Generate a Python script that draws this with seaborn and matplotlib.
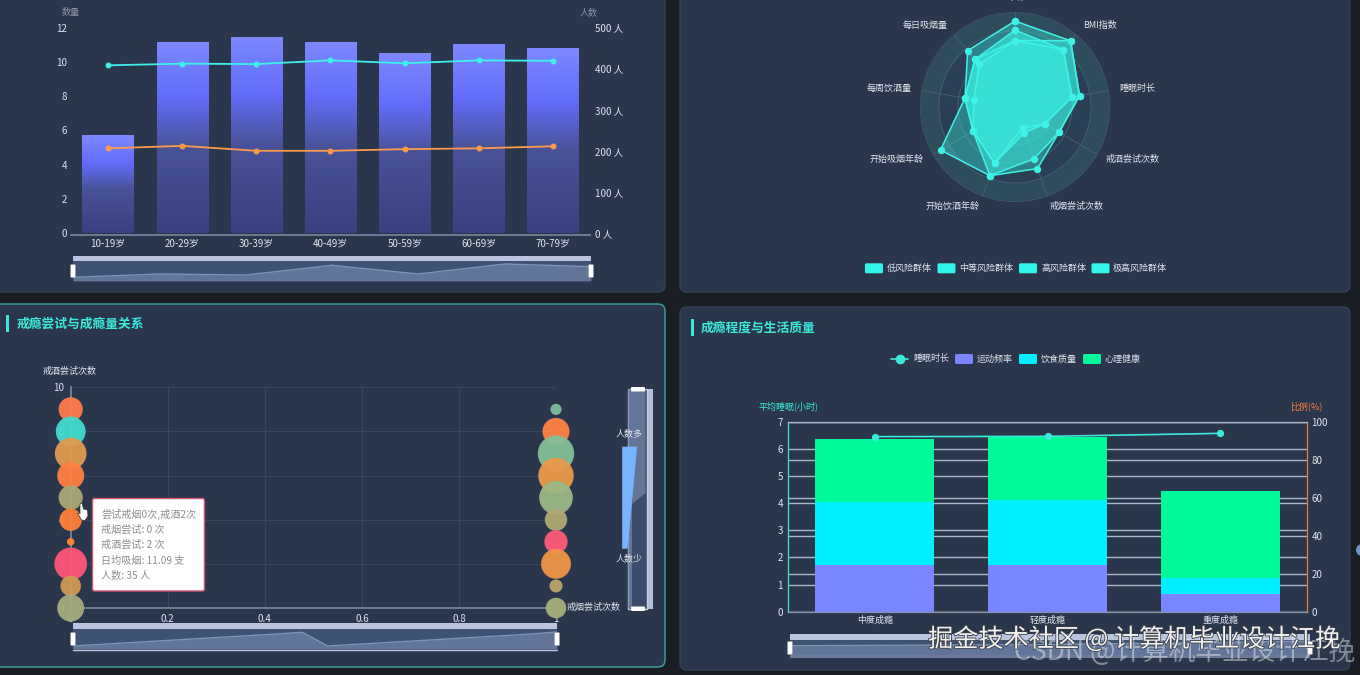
import numpy as np
import matplotlib
matplotlib.use("Agg")
import matplotlib.pyplot as plt
from matplotlib.colors import LinearSegmentedColormap
from matplotlib.patches import FancyBboxPatch, Rectangle, Polygon, Circle
import matplotlib.patheffects as pe
import seaborn as sns

W, H = 1360, 675
sns.set_theme(style="dark")
plt.rcParams["font.family"] = ["Noto Sans CJK SC", "DejaVu Sans"]
plt.rcParams["axes.unicode_minus"] = False

# 年龄段分布
age_groups = ["10-19岁", "20-29岁", "30-39岁", "40-49岁", "50-59岁", "60-69岁", "70-79岁"]
age_quantity = [5.67, 11.1, 11.42, 11.1, 10.48, 11.0, 10.75]
age_people_a = [408, 412, 411, 420, 413, 420, 419]
age_people_b = [206, 212, 200, 200, 204, 206, 211]
age_overview = [11, 21, 18, 47, 21, 51, 43]

# 风险群体雷达
radar_axes = ["年龄", "BMI指数", "睡眠时长", "戒酒尝试次数", "戒烟尝试次数",
              "开始饮酒年龄", "开始吸烟年龄", "每周饮酒量", "每日吸烟量"]
radar_groups = ["低风险群体", "中等风险群体", "高风险群体", "极高风险群体"]
radar_low = [0.70, 0.79, 0.61, 0.36, 0.29, 0.63, 0.51, 0.44, 0.585]
radar_mid = [0.81, 0.79, 0.61, 0.36, 0.235, 0.63, 0.51, 0.535, 0.655]
radar_high = [0.70, 0.91, 0.69, 0.535, 0.58, 0.77, 0.51, 0.535, 0.655]
radar_extreme = [0.905, 0.91, 0.69, 0.535, 0.69, 0.77, 0.905, 0.535, 0.775]

# 戒瘾尝试气泡
quit_alcohol = [9, 8, 7, 6, 5, 4, 3, 2, 1, 0]
people_smoke0 = [26, 32, 34, 29, 26, 24, 8, 35, 22, 29]
people_smoke1 = [12, 29, 39, 38, 36, 24, 25, 32, 14, 22]
colors_smoke0 = ["#ff7b4a", "#40dcd0", "#e29a50", "#ff7f42", "#a9a875",
                 "#ff8039", "#ff8b2e", "#ff5577", "#d09a55", "#a5ab7c"]
colors_smoke1 = ["#7cc0a0", "#ff8344", "#84bf98", "#ec9a48", "#9bb986",
                 "#b0a874", "#ff5a78", "#ef9645", "#bba36b", "#a6b07a"]
bubble_overview = [3, 4.5, 6, 7.5, 9, 10.5, 12, 13.5, 15, 16.7,
                   3, 4.5, 6, 7.5, 9, 10.5, 12, 13.5, 15, 17]

# 成瘾程度与生活质量
severity = ["中度成瘾", "轻度成瘾", "重度成瘾"]
sleep_hours = [6.45, 6.46, 6.57]
exercise_pct = [24.6, 24.7, 9.1]
diet_pct = [32.9, 33.9, 8.6]
mental_pct = [33.2, 33.15, 45.6]
severity_overview = [9, 10, 13]

TEXT = "#dfe5ef"
TEAL = "#3de8da"
FONT = 6.5
TICK = 7.0

fig = plt.figure(figsize=(W / 100, H / 100), dpi=100, facecolor="#191d24")


def px_axes(x0, y0, x1, y1, z=2, **kw):
    ax = fig.add_axes([x0 / W, 1 - y1 / H, (x1 - x0) / W, (y1 - y0) / H], zorder=z, **kw)
    ax.patch.set_alpha(0)
    return ax


def pixel_layer(z):
    ax = px_axes(0, 0, W, H, z=z)
    ax.set_xlim(0, W)
    ax.set_ylim(H, 0)
    ax.axis("off")
    return ax


def style_ticks(ax, color=TEXT):
    ax.tick_params(axis="both", which="both", colors=color, labelsize=TICK,
                   length=0, pad=3)
    ax.grid(False)
    ax.set_xlabel("")
    ax.set_ylabel("")


back = pixel_layer(0)
front = pixel_layer(20)


def panel(x0, y0, x1, y1, edge=None):
    back.add_patch(FancyBboxPatch((x0 + 6, y0 + 6), x1 - x0 - 12, y1 - y0 - 12,
                                  boxstyle="round,pad=6,rounding_size=7",
                                  fc="#2a364b", ec=edge or "#34425a", lw=1.0))


panel(-20, -30, 665, 292)
panel(680, -30, 1350, 292)
panel(-20, 304, 665, 667, edge="#3ba5a1")
panel(680, 307, 1350, 670)


def overview(x0, x1, y_top, y_body, y_bottom, values, limit=60):
    """Thin range selector with its miniature series."""
    front.add_patch(Rectangle((x0, y_top), x1 - x0, y_body - y_top, fc="#b9c5dc", ec="none"))
    ax = px_axes(x0, y_body, x1, y_bottom, z=5)
    ax.set_facecolor("#3f5272")
    ax.patch.set_alpha(1)
    xs = np.arange(len(values))
    sns.lineplot(x=xs, y=values, ax=ax, color="#7f92b8", lw=1.0, estimator=None, sort=False)
    ax.fill_between(xs, values, color="#8093b8", alpha=0.55, lw=0)
    ax.set_xlim(0, len(values) - 1)
    ax.set_ylim(0, limit)
    ax.set_xticks([])
    ax.set_yticks([])
    ax.set_xlabel("")
    ax.set_ylabel("")
    for s in ax.spines.values():
        s.set_visible(False)
    mid = (y_body + y_bottom) / 2
    for xh in (x0, x1):
        front.add_patch(FancyBboxPatch((xh - 1.5, mid - 5.5), 3, 11,
                                       boxstyle="round,pad=1", fc="white", ec="#8b98b0", lw=0.4))


# ---- 年龄段柱线图 ----
ax_q = px_axes(71, 27.5, 590, 233, z=3)
sns.barplot(x=age_groups, y=age_quantity, ax=ax_q, width=0.69, color="#6a74ff", saturation=1)
cmap_bar = LinearSegmentedColormap.from_list(
    "bar", [(0, "#3a4080"), (0.45, "#4a5299"), (0.72, "#636dfb"), (1, "#7d88ff")])
ramp = np.linspace(1, 0, 256).reshape(-1, 1)
for bar in list(ax_q.patches):
    x, w, h = bar.get_x(), bar.get_width(), bar.get_height()
    ax_q.imshow(ramp, cmap=cmap_bar, extent=(x, x + w, 0, h), aspect="auto", zorder=2, vmin=0, vmax=1)
    bar.set_visible(False)
ax_q.set_xlim(-0.5, 6.5)
ax_q.set_ylim(0, 12)
ax_q.set_yticks(range(0, 13, 2))
style_ticks(ax_q)
ax_q.set_xticks(np.arange(-0.5, 7, 1))
ax_q.set_xticklabels([])
ax_q.set_xticks(np.arange(7), labels=age_groups, minor=True)
ax_q.tick_params(axis="x", which="major", length=2.5, color="#77839a", pad=2)
ax_q.tick_params(axis="x", which="minor", length=0, pad=2.5, colors=TEXT, labelsize=TICK)
for s in ("top", "left", "right"):
    ax_q.spines[s].set_visible(False)
ax_q.spines["bottom"].set_color("#77839a")
ax_q.spines["bottom"].set_position(("outward", 1.5))

ax_p = ax_q.twinx()
ax_p.set_zorder(4)
ax_p.patch.set_alpha(0)
x_age = np.arange(len(age_groups))
sns.lineplot(x=x_age, y=age_people_a, ax=ax_p, color="#3ff0ea", lw=1.3, marker="o", ms=3.5,
             mec="#3ff0ea", estimator=None, sort=False)
sns.lineplot(x=x_age, y=age_people_b, ax=ax_p, color="#ff9a4d", lw=1.3, marker="o", ms=3.5,
             mec="#ff9a4d", estimator=None, sort=False)
ax_p.set_ylim(0, 500)
ax_p.set_yticks(range(0, 501, 100), [f"{v} 人" for v in range(0, 501, 100)])
style_ticks(ax_p)
ax_p.tick_params(axis="y", pad=3.5)
for s in ax_p.spines.values():
    s.set_visible(False)
front.text(70.5, 12.5, "数量", color="#8a93a3", fontsize=FONT, ha="center", va="center")
front.text(589, 12.5, "人数", color="#8a93a3", fontsize=FONT, ha="center", va="center")
overview(73, 591, 256, 261, 281, age_overview)

# ---- 风险群体雷达 ----
ax_r = px_axes(920, 12, 1110, 202, z=3, projection="polar")
ax_r.set_theta_zero_location("N")
ax_r.set_theta_direction(-1)
ax_r.set_ylim(0, 1)
theta = np.linspace(0, 2 * np.pi, 9, endpoint=False)
circle = np.linspace(0, 2 * np.pi, 200)
edges = [0, 0.2, 0.4, 0.6, 0.8, 1.0]
band_cols = ["#2a3e52", "#2f4a5a", "#2a3e52", "#2a3f53", "#2f4c5c"]
for r0, r1, col in zip(edges[:-1], edges[1:], band_cols):
    ax_r.fill_between(circle, r0, r1, color=col, lw=0, zorder=1)
    ax_r.plot(circle, np.full_like(circle, r1), color="#3f5e6b", lw=0.8, zorder=1.2)
for t in theta:
    ax_r.plot([t, t], [0, 1], color="#3f5e6b", lw=0.8, zorder=1.2)
for series, opacity in ((radar_extreme, 0.42), (radar_high, 0.6), (radar_mid, 0.75), (radar_low, 0.9)):
    tt = np.append(theta, theta[0])
    rr = np.append(series, series[0])
    ax_r.fill(tt, rr, color="#38e0d4", alpha=opacity, lw=0, zorder=2)
    sns.lineplot(x=tt, y=rr, ax=ax_r, color="#3ff2e6", lw=1.1, marker="o", ms=4.5, mec="#3ff2e6",
                 estimator=None, sort=False, zorder=3)
ax_r.set_ylim(0, 1)
ax_r.set_xlabel("")
ax_r.set_ylabel("")
ax_r.set_xticks([])
ax_r.set_yticks([])
ax_r.grid(False)
ax_r.spines["polar"].set_visible(False)

radar_label_pos = [(1015.5, -3), (1100, 25.5), (1137.5, 88), (1133, 159), (1077, 206),
                   (953, 206), (897, 159), (889.6, 88), (925.5, 25.5)]
for name, (lx, ly) in zip(radar_axes, radar_label_pos):
    front.text(lx, ly, name, color=TEXT, fontsize=FONT, ha="center", va="center")
for name, rx, tx in zip(radar_groups, (865, 937.5, 1019, 1091.5), (886.5, 959.5, 1041, 1113)):
    front.add_patch(FancyBboxPatch((rx + 1.5, 264.8), 15, 7, boxstyle="round,pad=1.5",
                                   fc="#30f5e8", ec="none"))
    front.text(tx, 268, name, color=TEXT, fontsize=FONT, ha="left", va="center")

# ---- 戒瘾尝试气泡图 ----
ax_b = px_axes(70.7, 387.3, 556, 608, z=3)
ax_b.set_axisbelow(True)
K = 0.466 * 2 * 72 / 100


def bubbles(x_value, people, colors):
    sns.scatterplot(x=np.full(len(people), x_value), y=quit_alcohol, hue=colors,
                    palette={c: c for c in colors}, size=people,
                    sizes={p: (p * K) ** 2 for p in people},
                    ax=ax_b, alpha=0.95, linewidth=0, legend=False, clip_on=False, zorder=3)


bubbles(0, people_smoke0, colors_smoke0)
bubbles(1, people_smoke1, colors_smoke1)
ax_b.set_xlim(0, 1)
ax_b.set_ylim(0, 10)
ax_b.set_xticks([0, 0.2, 0.4, 0.6, 0.8, 1.0], ["0", "0.2", "0.4", "0.6", "0.8", "1"])
ax_b.set_yticks(range(0, 11, 2))
style_ticks(ax_b)
ax_b.tick_params(axis="both", length=3, color="#7a8598", pad=1.5)
ax_b.grid(True, color="#3a475c", lw=0.7)
for s in ("top", "right"):
    ax_b.spines[s].set_visible(False)
ax_b.spines["left"].set_color("#7a8598")
ax_b.spines["bottom"].set_color("#7a8598")
front.text(70, 371, "戒酒尝试次数", color=TEXT, fontsize=FONT, ha="center", va="center")
front.text(567, 607.5, "戒烟尝试次数", color=TEXT, fontsize=FONT, ha="left", va="center")
overview(73, 557, 623, 629, 649, bubble_overview, limit=20)
front.plot([73, 557], [649.5, 649.5], color="#b9c5dc", lw=1)

# 提示框
front.add_patch(FancyBboxPatch((94, 500), 109, 89.5, boxstyle="round,pad=1.5,rounding_size=2",
                               fc="white", ec="#d6506e", lw=1))
tip_lines = ["尝试戒烟0次,戒酒2次", "戒烟尝试: 0 次", "戒酒尝试: 2 次", "日均吸烟: 11.09 支", "人数: 35 人"]
for line, ty in zip(tip_lines, (514.5, 530, 545, 560.5, 576)):
    front.text(101, ty, line, color="#8e8e8e", fontsize=7.3, ha="left", va="center")
# 光标
front.add_patch(Polygon([(80, 504), (82, 503), (83.5, 509), (87.5, 510), (88, 516), (85, 520.5),
                         (81.5, 520), (77.5, 513), (80, 513.5)],
                        fc="white", ec="#333333", lw=0.5))

# 视觉映射与纵向缩放条
front.add_patch(Rectangle((627.5, 389), 19, 220, fc="#3c4d6c", ec="#c3cee0", lw=1))
front.add_patch(Polygon([(628, 389), (645.5, 389), (645.5, 493), (632, 504), (632, 608), (628, 608)],
                        fc="#7285a8", ec="none", alpha=0.75))
front.add_patch(Rectangle((647.5, 389), 5.5, 220, fc="#b4c0d8", ec="none"))
front.add_patch(FancyBboxPatch((632, 388), 12, 2.5, boxstyle="round,pad=1", fc="white", ec="none"))
front.add_patch(FancyBboxPatch((632, 607.5), 12, 2.5, boxstyle="round,pad=1", fc="white", ec="none"))
front.add_patch(Polygon([(622.5, 447), (636.7, 447), (627.3, 548.3), (622.5, 548.3)],
                        fc="#78b4ff", ec="#78b4ff", lw=0.5, joinstyle="round"))
front.text(629.5, 434, "人数多", color=TEXT, fontsize=FONT, ha="center", va="center")
front.text(629.5, 559, "人数少", color=TEXT, fontsize=FONT, ha="center", va="center")

front.add_patch(Rectangle((6, 315), 2.8, 17, fc=TEAL, ec="none"))
front.text(16, 324, "戒瘾尝试与成瘾量关系", color=TEAL, fontsize=9.2, fontweight="bold", ha="left", va="center")

# ---- 成瘾程度堆叠柱 ----
ax_l = px_axes(788.4, 421.7, 1306.6, 611.7, z=3)
ax_s = ax_l.twinx()
ax_s.set_zorder(4)
ax_s.patch.set_alpha(0)
bottom = np.zeros(3)
for vals, col in ((exercise_pct, "#7a86ff"), (diet_pct, "#00f0ff"), (mental_pct, "#00fa9a")):
    sns.barplot(x=severity, y=vals, ax=ax_s, bottom=bottom, width=0.69, color=col, saturation=1,
                zorder=3, linewidth=0, edgecolor="none")
    bottom += np.array(vals)
ax_s.set_ylim(0, 100)
ax_s.set_yticks(range(0, 101, 20))
style_ticks(ax_s)
ax_s.grid(True, axis="y", color="#aab6ca", lw=1.0, zorder=0)
ax_s.set_axisbelow(True)
ax_s.yaxis.tick_right()
ax_s.tick_params(axis="y", pad=3.5)

ax_l.set_ylim(0, 7)
ax_l.set_yticks(range(0, 8))
style_ticks(ax_l)
ax_l.tick_params(axis="y", pad=4)
ax_l.grid(True, axis="y", color="#aab6ca", lw=1.0)
ax_l.set_xlim(-0.5, 2.5)
ax_l.set_xticks([-0.5, 0.5, 1.5, 2.5])
ax_l.set_xticklabels([])
ax_l.set_xticks([0, 1, 2], labels=severity, minor=True)
ax_l.tick_params(axis="x", which="major", length=2.5, color="#8793a8")
ax_l.tick_params(axis="x", which="minor", length=0, pad=3, colors=TEXT, labelsize=FONT)
for s in ax_l.spines.values():
    s.set_visible(False)

ax_t = ax_l.twinx()
ax_t.set_zorder(5)
ax_t.patch.set_alpha(0)
sns.lineplot(x=np.arange(3), y=sleep_hours, ax=ax_t, color=TEAL, lw=1.2, marker="o", ms=4.5,
             mec=TEAL, estimator=None, sort=False)
ax_t.set_ylim(0, 7)
ax_t.set_yticks([])
ax_t.set_ylabel("")
ax_t.grid(False)
for s in ax_t.spines.values():
    s.set_visible(False)
for side, col in (("top", "#aab6ca"), ("bottom", "#8793a8"), ("left", TEAL), ("right", "#e08040")):
    ax_s.spines[side].set_color(col)
    ax_s.spines[side].set_linewidth(0.9)

front.text(788.5, 406, "平均睡眠(小时)", color=TEAL, fontsize=FONT, ha="center", va="center")
front.text(1306, 406, "比例(%)", color="#ff7f3f", fontsize=FONT, ha="center", va="center")
front.add_patch(Rectangle((691, 319), 3, 17, fc=TEAL, ec="none"))
front.text(701, 328, "成瘾程度与生活质量", color=TEAL, fontsize=9.2, fontweight="bold", ha="left", va="center")

front.plot([891, 908], [359, 359], color=TEAL, lw=1.2)
front.plot([899.5], [359], "o", color=TEAL, ms=6)
legend_y = 359
front.text(913, legend_y, "睡眠时长", color=TEXT, fontsize=FONT, ha="left", va="center")
for rx, col, tx, name in ((955, "#7a86ff", 976.5, "运动频率"), (1019, "#00f0ff", 1041, "饮食质量"),
                          (1083, "#00fa9a", 1105, "心理健康")):
    front.add_patch(FancyBboxPatch((rx + 1.5, legend_y - 3.5), 15, 7, boxstyle="round,pad=1.5", fc=col, ec="none"))
    front.text(tx, legend_y, name, color=TEXT, fontsize=FONT, ha="left", va="center")

overview(790, 1310, 634, 640, 656, severity_overview, limit=14)
front.add_patch(Rectangle((790, 655), 520, 3, fc="#6b7a98", ec="none"))

front.add_patch(Circle((1362, 550), 6, fc="#6e94c8", ec="none", clip_on=True))

# 图片水印
front.text(1355, 652, "CSDN @计算机毕业设计江挽", color="white", alpha=0.42, fontsize=19.2,
           ha="right", va="center")
front.text(1340, 639.5, "掘金技术社区 @ 计算机毕业设计江挽", color="#f2f2f2", fontsize=18.1, ha="right", va="center",
           path_effects=[pe.withStroke(linewidth=1.2, foreground="#3a3f48")])

fig.savefig("out.png", dpi=100, facecolor=fig.get_facecolor())
